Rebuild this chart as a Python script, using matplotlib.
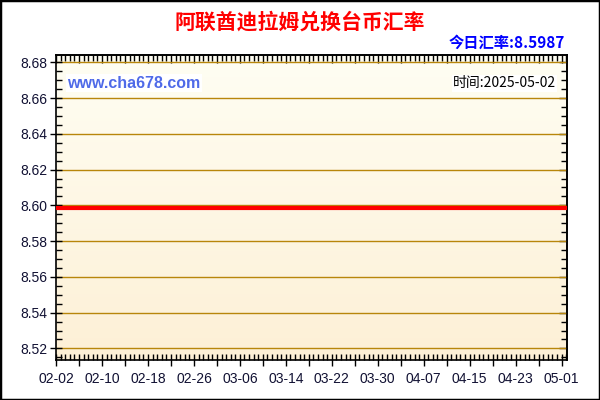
import matplotlib
matplotlib.use("Agg")
import matplotlib.pyplot as plt
from matplotlib.ticker import MultipleLocator, FixedLocator, FuncFormatter, NullFormatter
from matplotlib.patches import Rectangle
import numpy as np
import datetime as dt

# data: rate AED -> TWD, flat over the period
start = dt.date(2025, 2, 2)
dates = ["2025-02-02", "2025-05-02"]
rates = [8.5987, 8.5987]
today_rate = "8.5987"
update_time = "2025-05-02"
title = "阿联酋迪拉姆兑换台币汇率"
y_ticks = [8.52, 8.54, 8.56, 8.58, 8.60, 8.62, 8.64, 8.66, 8.68]

days = [(dt.date.fromisoformat(d) - start).days for d in dates]

cjk = ['Noto Sans CJK SC', 'DejaVu Sans']
plt.rcParams['font.family'] = ['Liberation Sans', 'DejaVu Sans']

fig = plt.figure(figsize=(6, 4), dpi=100)
fig.patch.set_facecolor('white')
fig.patches.append(Rectangle((0, 0), 1, 1, transform=fig.transFigure,
                             fill=False, edgecolor='black', linewidth=2.5))

ax = fig.add_axes([0.0935, 0.10, 0.852, 0.7625])
ax.set_xlim(0, 89)
ax.set_ylim(8.5135, 8.6841)

# cream gradient background
grad = np.linspace(0, 1, 256).reshape(-1, 1)
top = np.array([255, 254, 243]) / 255
bot = np.array([253, 240, 214]) / 255
img = top + (bot - top) * grad[:, :, None]
ax.imshow(img, extent=[0, 89, 8.5135, 8.6841], aspect='auto', zorder=0,
          origin='upper')

for v in y_ticks:
    ax.axhline(v, color='#b8860b', linewidth=1.0, zorder=1)

ax.plot(days, rates, color='#ff0000', linewidth=3.0, zorder=3,
        solid_capstyle='butt')

# ticks
def xlab(v, p):
    d = int(round(v))
    if d % 8:
        return ""
    return (start + dt.timedelta(days=d)).strftime("%m-%d")

ax.yaxis.set_major_locator(FixedLocator(y_ticks))
ax.yaxis.set_minor_locator(MultipleLocator(0.005))
ax.yaxis.set_major_formatter(FuncFormatter(lambda v, p: f"{v:.2f}"))
ax.xaxis.set_major_locator(MultipleLocator(4))
ax.xaxis.set_minor_locator(MultipleLocator(0.8))
ax.xaxis.set_major_formatter(FuncFormatter(xlab))
ax.tick_params(which='major', direction='inout', length=9, width=1,
               labelsize=10, labelcolor='#111133', pad=2)
ax.tick_params(which='minor', direction='in', length=4, width=1)
ax.tick_params(axis='x', which='major', pad=4)

# inward ticks on top and right
topax = ax.secondary_xaxis('top')
topax.xaxis.set_major_locator(MultipleLocator(4))
topax.xaxis.set_minor_locator(MultipleLocator(0.8))
topax.xaxis.set_major_formatter(NullFormatter())
topax.tick_params(which='major', direction='in', length=6, width=1)
topax.tick_params(which='minor', direction='in', length=4, width=1)
rightax = ax.secondary_yaxis('right')
rightax.yaxis.set_major_locator(FixedLocator(y_ticks))
rightax.yaxis.set_minor_locator(MultipleLocator(0.005))
rightax.yaxis.set_major_formatter(NullFormatter())
rightax.tick_params(which='major', direction='in', length=6, width=1)
rightax.tick_params(which='minor', direction='in', length=4, width=1)
for a in (ax, topax, rightax):
    for s in a.spines.values():
        s.set_linewidth(1.2)
        s.set_color('black')

# texts
fig.text(0.5, 0.945, title, color='#ff0000', fontsize=15, fontweight='bold',
         ha='center', va='center', family=cjk)
fig.text(0.942, 0.893, "今日汇率:" + today_rate, color='#0000ff', fontsize=11,
         fontweight='bold', ha='right', va='center', family=cjk)
ax.text(0.022, 0.907, "www.cha678.com", transform=ax.transAxes,
        color='#4f6ae8', fontsize=11.5, fontweight='bold', ha='left',
        va='center', zorder=4,
        bbox=dict(facecolor='white', edgecolor='none', pad=1))
ax.text(0.978, 0.907, "时间:" + update_time, transform=ax.transAxes,
        color='black', fontsize=10, ha='right', va='center', family=cjk,
        zorder=4, bbox=dict(facecolor='white', edgecolor='none', pad=1))

fig.savefig("out.png", dpi=100)
